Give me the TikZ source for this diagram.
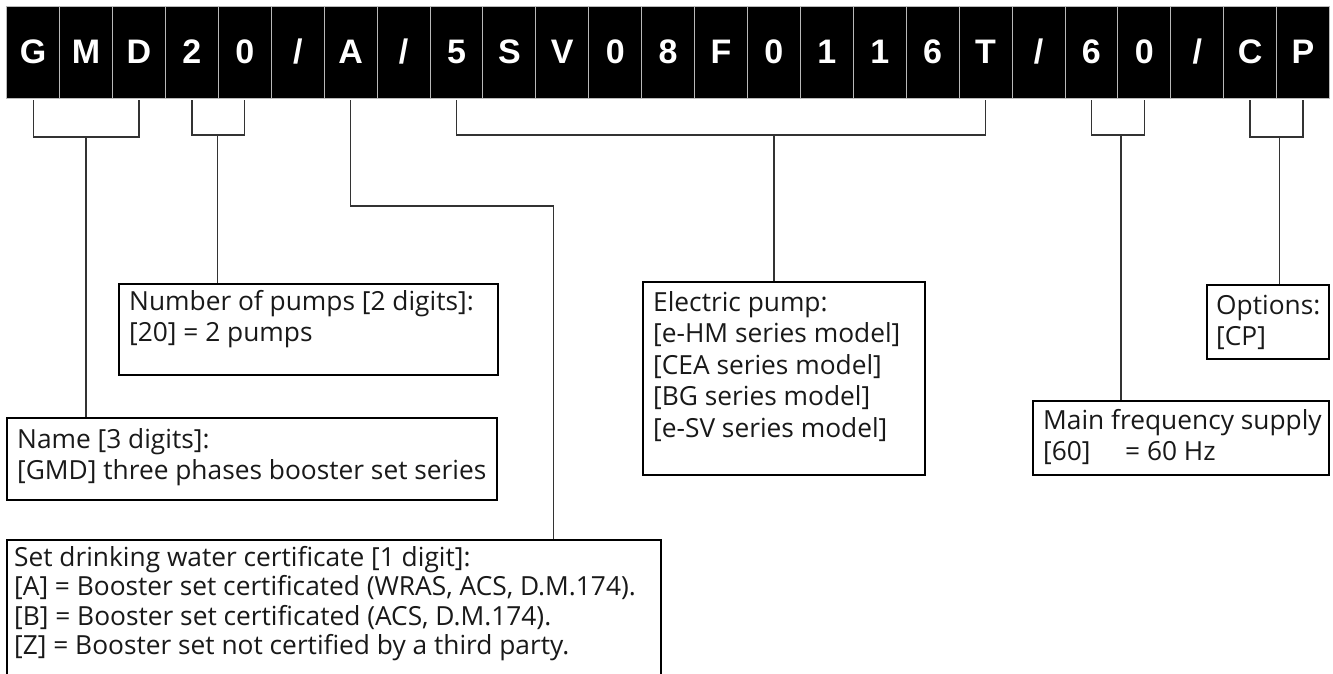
\documentclass[tikz,border=0pt]{standalone}
\usepackage{fontspec}
\setmainfont{Open Sans}[Ligatures=NoCommon]
\newfontfamily\cellfont{Liberation Sans}
\begin{document}
\begin{tikzpicture}[x=1pt,y=-1pt,
  cell/.style={fill=black, draw=gray!55, line width=0.9pt, minimum width=52.91pt, minimum height=92pt, inner sep=0pt, text=white, font=\cellfont\bfseries\fontsize{34}{34}\selectfont},
  box/.style={draw=black, line width=2.4pt, inner sep=0pt, anchor=north west},
  conn/.style={draw=black!80, line width=1.3pt},
  txt/.style={anchor=base west, inner sep=0pt, text=black!90, font=\fontsize{26.3}{31.6}\selectfont},
  txtset/.style={txt, font=\fontsize{26.3}{29.5}\selectfont}]
\useasboundingbox[fill=white] (0,0) rectangle (1333,673);
\foreach \ch [count=\i from 0] in {G,M,D,2,0,/,A,/,5,S,V,0,8,F,0,1,1,6,T,/,6,0,/,C,P}
  \node[cell] (c\i) at (33.2+52.91*\i,52) {\ch};

% boxes
\node[box, minimum width=379pt, minimum height=91pt] (bNum) at (118,283) {};
\node[box, minimum width=490pt, minimum height=82pt] (bName) at (6,417) {};
\node[box, minimum width=654pt, minimum height=170pt] (bSet) at (6,539) {};
\node[box, minimum width=282pt, minimum height=193pt] (bElec) at (642,281) {};
\node[box, minimum width=296pt, minimum height=74pt] (bMain) at (1032,400) {};
\node[box, minimum width=122pt, minimum height=74pt] (bOpt) at (1206,284) {};

% texts
\node[txt] (tNum) at (129,310) {\parbox[t]{360pt}{Number of pumps [2 digits]:\\{}[20] = 2 pumps}};
\node[txt] (tName) at (17,448) {\parbox[t]{480pt}{Name [3 digits]:\\{}[GMD] three phases booster set series}};
\node[txtset] (tSet) at (14,566) {\parbox[t]{650pt}{Set drinking water certificate [1 digit]:\\{}[A] = Booster set certificated (WRAS, ACS, D.M.174).\\{}[B] = Booster set certificated (ACS, D.M.174).\\{}[Z] = Booster set not certified by a third party.}};
\node[txt] (tElec) at (653,311) {\parbox[t]{270pt}{Electric pump:\\{}[e-HM series model]\\{}[CEA series model]\\{}[BG series model]\\{}[e-SV series model]}};
\node[txt] (tMain) at (1043,429) {\parbox[t]{285pt}{Main frequency supply\\\makebox[82pt][l]{[60]}= 60 Hz}};
\node[txt] (tOpt) at (1216,314) {\parbox[t]{110pt}{Options:\\{}[CP]}};

% connectors
\coordinate (jG) at (86,137);
\draw[conn] ([yshift=-2pt]c0.south) -- (c0.south |- jG) -- (c2.south |- jG) -- ([yshift=-2pt]c2.south);
\draw[conn] (jG) -- (jG |- bName.north);

\coordinate (jN) at (217.5,135);
\draw[conn] ([yshift=-2pt]c3.south) -- (c3.south |- jN) -- (c4.south |- jN) -- ([yshift=-2pt]c4.south);
\draw[conn] (jN) -- (jN |- bNum.north);

\coordinate (aKnee) at (553.5,206);
\draw[conn] ([yshift=-2pt]c6.south) |- (aKnee) -- (aKnee |- bSet.north);

\coordinate (jE) at (774,135);
\draw[conn] ([yshift=-2pt]c8.south) -- (c8.south |- jE) -- (c18.south |- jE) -- ([yshift=-2pt]c18.south);
\draw[conn] (jE) -- (jE |- bElec.north);

\coordinate (jM) at (1121,135);
\draw[conn] ([yshift=-2pt]c20.south) -- (c20.south |- jM) -- (c21.south |- jM) -- ([yshift=-2pt]c21.south);
\draw[conn] (jM) -- (jM |- bMain.north);

\coordinate (jO) at (1279.5,137);
\draw[conn] ([yshift=-2pt]c23.south) -- (c23.south |- jO) -- (c24.south |- jO) -- ([yshift=-2pt]c24.south);
\draw[conn] (jO) -- (jO |- bOpt.north);
\end{tikzpicture}
\end{document}
